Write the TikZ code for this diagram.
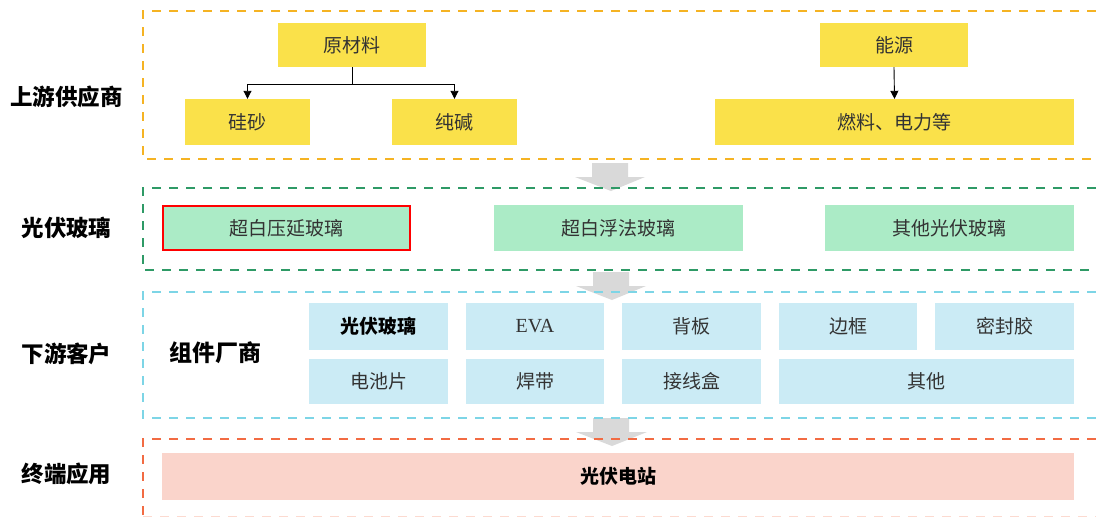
\documentclass[tikz,border=0pt]{standalone}
\usepackage{fontspec}
\setmainfont{Noto Sans CJK SC}
\newfontfamily\cjk{Noto Sans CJK SC}
\newfontfamily\latinserif{Liberation Serif}
\usetikzlibrary{arrows.meta}
\definecolor{yel}{HTML}{FAE14A}
\definecolor{grn}{HTML}{ABEBC6}
\definecolor{blu}{HTML}{CBEBF5}
\definecolor{pnk}{HTML}{FAD4CB}
\definecolor{fOrange}{HTML}{F5B323}
\definecolor{fGreen}{HTML}{2E9A66}
\definecolor{fCyan}{HTML}{7DD5E6}
\definecolor{fRed}{HTML}{F26B43}
\definecolor{txt}{HTML}{333333}
\definecolor{garrow}{HTML}{D9D9D9}
\tikzset{
  boxbase/.style={inner sep=0pt, text=txt, font=\cjk\fontsize{19}{19}\selectfont},
  ybox/.style={boxbase, fill=yel},
  gbox/.style={boxbase, fill=grn, minimum width=249pt, minimum height=46pt},
  cbox/.style={boxbase, fill=blu, minimum height=46pt},
  frame/.style={line width=2.2pt, dash pattern=on 9pt off 8pt},
  sidelabel/.style={inner sep=0pt, text=black, font=\cjk\bfseries\fontsize{22.5}{22.5}\selectfont},
  conn/.style={line width=0.9pt, black},
  blockarrow/.style={fill=garrow, draw=none}
}
\begin{document}
\begin{tikzpicture}[x=1pt,y=-1pt]
\useasboundingbox (0,0) rectangle (1096,517);
% gray block arrows (behind frames)
\fill[blockarrow] (592,163) -- (628,163) -- (628,177) -- (645,177) -- (611,191) -- (575,177) -- (592,177) -- cycle;
\fill[blockarrow] (593,272) -- (629,272) -- (629,286) -- (646,286) -- (612,300) -- (576,286) -- (593,286) -- cycle;
\fill[blockarrow] (593,418) -- (629,418) -- (629,432) -- (647,432) -- (612,446) -- (576,432) -- (593,432) -- cycle;
% frames
\draw[frame, fOrange] (1096,11) -- (143,11) -- (143,159) -- (1096,159);
\draw[frame, fGreen] (1096,188) -- (143,188) -- (143,270) -- (1096,270);
\draw[frame, fCyan] (1096,292) -- (143,292) -- (143,418) -- (1096,418);
\draw[frame, fRed] (1096,439) -- (143,439) -- (143,517);
\draw[frame, fRed!25] (143,517) -- (1096,517);
% side labels
\node[sidelabel] (lsup) at (66.5,97) {上游供应商};
\node[sidelabel] (lpvg) at (66.5,228) {光伏玻璃};
\node[sidelabel] (ldown) at (66.5,354) {下游客户};
\node[sidelabel] (lend) at (66.5,474) {终端应用};
% upstream
\node[ybox, minimum width=148pt, minimum height=44pt] (raw) at (352,45) {原材料};
\node[ybox, minimum width=125pt, minimum height=46pt] (gs) at (247.5,122) {硅砂};
\node[ybox, minimum width=125pt, minimum height=46pt] (cj) at (454.5,122) {纯碱};
\node[ybox, minimum width=148pt, minimum height=44pt] (ny) at (894,45) {能源};
\node[ybox, minimum width=359pt, minimum height=46pt] (rl) at (894.5,122) {燃料、电力等};
\coordinate (j) at (352,84);
\draw[conn] (raw.south) -- (j);
\draw[conn, -{Triangle[width=8pt,length=8pt]}] (j) -| (gs.north);
\draw[conn, -{Triangle[width=8pt,length=8pt]}] (j) -| (cj.north);
\draw[conn, -{Triangle[width=8pt,length=8pt]}] (ny.south) -- (rl.north);
% PV glass
\node[gbox, draw=red, line width=2pt, minimum width=247pt, minimum height=44pt] (g1) at (286.5,228) {超白压延玻璃};
\node[gbox] (g2) at (618.5,228) {超白浮法玻璃};
\node[gbox] (g3) at (949.5,228) {其他光伏玻璃};
% downstream
\node[inner sep=0pt, text=black, font=\cjk\bfseries\fontsize{23}{23}\selectfont] (zj) at (215,353) {组件厂商};
\node[cbox, minimum width=139pt, minimum height=47pt, text=black, font=\cjk\bfseries\fontsize{19}{19}\selectfont] (c11) at (378.5,326.5) {光伏玻璃};
\node[cbox, minimum width=138pt, minimum height=47pt, font=\latinserif\fontsize{20}{20}\selectfont] (c12) at (535,326.5) {EVA};
\node[cbox, minimum width=139pt, minimum height=47pt] (c13) at (691.5,326.5) {背板};
\node[cbox, minimum width=138pt, minimum height=47pt] (c14) at (848,326.5) {边框};
\node[cbox, minimum width=139pt, minimum height=47pt] (c15) at (1004.5,326.5) {密封胶};
\node[cbox, minimum width=139pt, minimum height=45pt] (c21) at (378.5,381.5) {电池片};
\node[cbox, minimum width=138pt, minimum height=45pt] (c22) at (535,381.5) {焊带};
\node[cbox, minimum width=139pt, minimum height=45pt] (c23) at (691.5,381.5) {接线盒};
\node[cbox, minimum width=295pt, minimum height=45pt] (c24) at (926.5,381.5) {其他};
% terminal
\node[boxbase, fill=pnk, minimum width=912pt, minimum height=47pt, text=black, font=\cjk\bfseries\fontsize{19}{19}\selectfont] (pv) at (618,476.5) {光伏电站};
\end{tikzpicture}
\end{document}
